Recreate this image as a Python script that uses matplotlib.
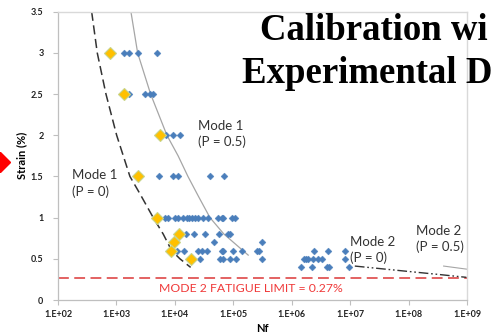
import matplotlib
matplotlib.use("Agg")
import matplotlib.pyplot as plt
from matplotlib.lines import Line2D
import numpy as np

# ---------------- data (log10 Nf, strain %) ----------------
blue_log = [3.129, 3.214, 3.363, 3.688,
            3.219, 3.493, 3.568, 3.630,
            3.847, 3.962, 4.081,
            3.733, 3.962, 4.047, 4.600, 4.844,
            3.830, 3.886, 4.001, 4.057, 4.143, 4.201, 4.246, 4.292, 4.343, 4.400,
            4.485, 4.571, 4.742, 4.800, 4.827, 4.971, 5.027,
            4.189, 4.331, 4.514, 4.759, 4.913, 4.942,
            4.673, 5.494,
            4.040, 4.155, 4.400, 4.458, 4.543, 4.800, 4.827, 4.998, 5.142, 5.398,
            5.438, 6.378, 6.623, 6.909,
            4.429, 4.771, 4.827, 4.942, 5.044, 5.494, 6.207, 6.236, 6.281, 6.366,
            6.452, 6.510, 6.909,
            6.156, 6.339, 6.606, 6.640, 6.982]
blue_strain = [3.0, 3.0, 3.0, 3.0,
               2.5, 2.5, 2.5, 2.5,
               2.0, 2.0, 2.0,
               1.5, 1.5, 1.5, 1.5, 1.5,
               1.0, 1.0, 1.0, 1.0, 1.0, 1.0, 1.0, 1.0, 1.0, 1.0,
               1.0, 1.0, 1.0, 1.0, 1.0, 1.0, 1.0,
               0.8, 0.8, 0.8, 0.8, 0.8, 0.8,
               0.7, 0.7,
               0.6, 0.6, 0.6, 0.6, 0.6, 0.6, 0.6, 0.6, 0.6, 0.6,
               0.6, 0.6, 0.6, 0.6,
               0.5, 0.5, 0.5, 0.5, 0.5, 0.5, 0.5, 0.5, 0.5, 0.5,
               0.5, 0.5, 0.5,
               0.4, 0.4, 0.4, 0.4, 0.4]

yellow_log = [2.889, 3.134, 3.745, 3.373, 3.688, 4.075, 3.984, 3.927, 4.270]
yellow_strain = [3.0, 2.5, 2.0, 1.5, 1.0, 0.8, 0.7, 0.6, 0.5]

mode1_p0_log = [2.576, 2.672, 2.821, 3.004, 3.231, 3.402, 3.630, 3.801, 3.945, 4.087, 4.270]
mode1_p0_strain = [3.5, 3.0, 2.5, 2.0, 1.5, 1.29, 1.0, 0.8, 0.6, 0.5, 0.396]

mode1_p05_log = [3.248, 3.363, 3.585, 3.864, 4.056, 4.224, 4.410, 4.601, 4.840, 5.255]
mode1_p05_strain = [3.5, 3.0, 2.5, 2.0, 1.75, 1.5, 1.25, 1.0, 0.8, 0.545]

mode2_p0_log = [7.08, 7.85, 8.53, 8.99]
mode2_p0_strain = [0.412, 0.357, 0.309, 0.275]

mode2_p05_log = [8.60, 8.99]
mode2_p05_strain = [0.412, 0.375]

fatigue_limit = 0.27

xtick_exp = [2, 3, 4, 5, 6, 7, 8, 9]
xtick_labels = ["1.E+02", "1.E+03", "1.E+04", "1.E+05", "1.E+06", "1.E+07", "1.E+08", "1.E+09"]
ytick_vals = [0, 0.5, 1, 1.5, 2, 2.5, 3, 3.5]
ytick_labels = ["0", "0.5", "1", "1.5", "2", "2.5", "3", "3.5"]

# ---------------- figure ----------------
W, H = 491, 336
fig = plt.figure(figsize=(W / 100, H / 100), dpi=100)
ax = fig.add_axes([58 / W, 1 - 300 / H, (467 - 58) / W, (300 - 11.7) / H])

def N(lst):
    return [10 ** v for v in lst]

ax.plot(N(mode1_p0_log), mode1_p0_strain, color="#333333", lw=1.1,
        dashes=(6, 3), zorder=2)
ax.plot(N(mode1_p05_log), mode1_p05_strain, color="#a6a6a6", lw=0.9, zorder=2)
ax.plot(N(mode2_p0_log), mode2_p0_strain, color="#333333", lw=1.0,
        dashes=(7, 2, 1.2, 2, 1.2, 2), zorder=2)
ax.plot(N(mode2_p05_log), mode2_p05_strain, color="#a6a6a6", lw=0.8, zorder=2)

ax.axhline(fatigue_limit, color="#e05555", lw=1.3, dashes=(6, 3), zorder=1)

ax.plot(N(blue_log), blue_strain, linestyle="none", marker="D", markersize=3.5,
        markerfacecolor="#4a7ebb", markeredgecolor="#4a7ebb", markeredgewidth=0.3, zorder=3)
ax.plot(N(yellow_log), yellow_strain, linestyle="none", marker="D", markersize=6.2,
        markerfacecolor="#ffc000", markeredgecolor="#c8d48c", markeredgewidth=0.8, zorder=4)

ax.set_xscale("log")
ax.set_xlim(1e2, 1e9)
ax.set_ylim(0, 3.5)
ax.set_xticks([10 ** e for e in xtick_exp])
ax.set_xticklabels(xtick_labels)
ax.xaxis.set_minor_locator(matplotlib.ticker.NullLocator())
ax.set_yticks(ytick_vals)
ax.set_yticklabels(ytick_labels)

for lab in ax.get_xticklabels() + ax.get_yticklabels():
    lab.set_fontfamily("Lato")
    lab.set_fontweight("bold")
    lab.set_fontsize(6.5)
    lab.set_color("#222222")
ax.tick_params(axis="both", direction="out", length=3.5, width=0.8, color="#bfbfbf")
ax.tick_params(axis="x", pad=4)
ax.tick_params(axis="y", pad=7)

for s in ["left", "bottom"]:
    ax.spines[s].set_color("#bfbfbf")
    ax.spines[s].set_linewidth(0.9)
for s in ["top", "right"]:
    ax.spines[s].set_color("#d9d9d9")
    ax.spines[s].set_linewidth(1.0)

ax.set_xlabel("Nf", fontfamily="Lato", fontweight="bold", fontsize=8, labelpad=2.5)
ax.set_ylabel("Strain (%)", fontfamily="Lato", fontweight="bold", fontsize=8, labelpad=2.5)

# annotations (placed in pixel space of figure)
ann_font = dict(family="Lato", size=9.5, color="#333333", linespacing=1.35)
def px(x, y):
    return x / W, 1 - y / H

fig.text(*px(198, 134), "Mode 1\n(P = 0.5)", ha="left", va="center", **ann_font)
fig.text(*px(71.5, 183.5), "Mode 1\n(P = 0)", ha="left", va="center", **ann_font)
fig.text(*px(349.5, 250), "Mode 2\n(P = 0)", ha="left", va="center", **ann_font)
fig.text(*px(415.5, 239), "Mode 2\n(P = 0.5)", ha="left", va="center", **ann_font)

fig.text(*px(251, 288), "MODE 2 FATIGUE LIMIT = 0.27%", ha="center", va="center",
         family="Lato", size=8.8, color="#f03a3a")

# title (partially visible in reference)
fig.text(*px(260.5, 40), "Calibration wi", ha="left", va="baseline",
         family="Liberation Serif", weight="bold", size=26.5, color="black")
fig.text(*px(241.5, 83), "Experimental D", ha="left", va="baseline",
         family="Liberation Serif", weight="bold", size=26.5, color="black")

# red diamond at the left edge
fig.add_artist(Line2D([0], [1 - 162 / H], transform=fig.transFigure, marker="D",
                      markersize=10, color="#ff0000", linestyle="none"))

fig.savefig("out.png", dpi=100)
